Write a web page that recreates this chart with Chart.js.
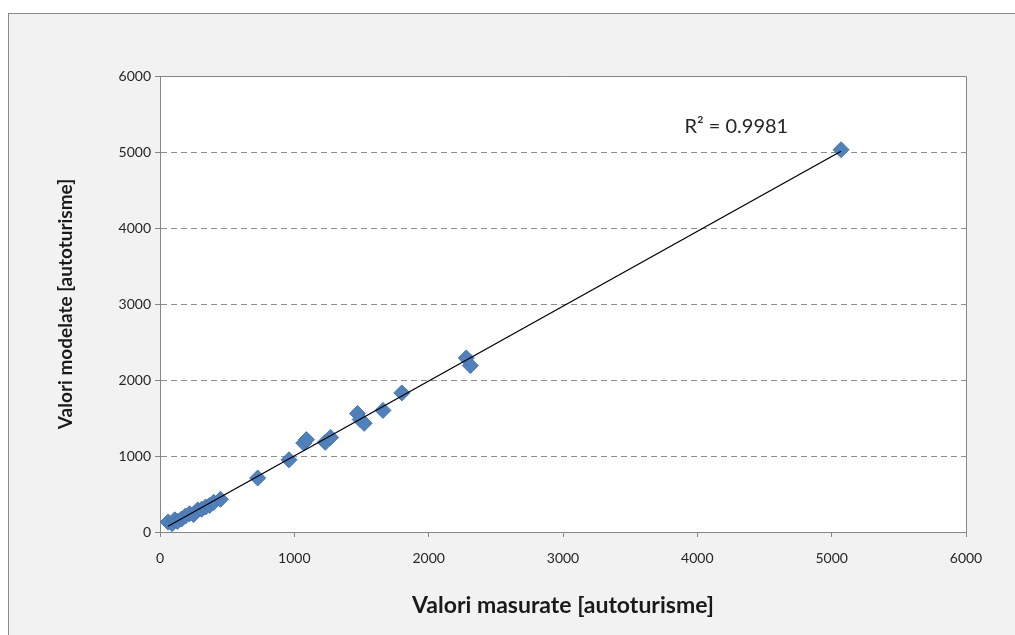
<!DOCTYPE html>
<html>
<head>
<meta charset="utf-8">
<script src="https://cdn.jsdelivr.net/npm/chart.js@4/dist/chart.umd.min.js"></script>
<style>
  html, body { margin: 0; padding: 0; background: #ffffff; width: 1015px; height: 635px; overflow: hidden; }
  #frame { position: absolute; left: 8px; top: 13px; width: 1100px; height: 700px;
           border-left: 1px solid #8a8a8a; border-top: 1px solid #8a8a8a; background: #f2f2f2; }
  #wrap { position: absolute; left: 0; top: 0; width: 1015px; height: 635px; }
</style>
</head>
<body>
<div id="frame"></div>
<div id="wrap"><canvas id="c" width="1015" height="635"></canvas></div>
<script>
// Measured values (x) and modelled values (y)
const measured = [60, 90, 110, 130, 160, 190, 220, 250, 280, 310, 340, 370, 400, 450,
                  727, 960, 1070, 1090, 1230, 1270, 1470, 1490, 1520, 1660, 1800, 2280, 2310, 5070];
const modelled = [130, 110, 160, 140, 170, 210, 240, 230, 290, 300, 330, 350, 390, 430,
                  710, 950, 1170, 1215, 1180, 1245, 1560, 1480, 1430, 1600, 1830, 2290, 2190, 5030];
const xTicks = [0, 1000, 2000, 3000, 4000, 5000, 6000];
const yTicks = [0, 1000, 2000, 3000, 4000, 5000, 6000];
const xTitle = 'Valori masurate [autoturisme]';
const yTitle = 'Valori modelate [autoturisme]';
const r2Text = 'R² = 0.9981';

// Linear trendline (least squares) from the data
const n = measured.length;
const mx = measured.reduce((a, b) => a + b, 0) / n;
const my = modelled.reduce((a, b) => a + b, 0) / n;
let sxy = 0, sxx = 0;
for (let i = 0; i < n; i++) { sxy += (measured[i] - mx) * (modelled[i] - my); sxx += (measured[i] - mx) ** 2; }
const slope = sxy / sxx, intercept = my - slope * mx;
const xmin = Math.min(...measured), xmax = Math.max(...measured);

const points = measured.map((x, i) => ({ x: x, y: modelled[i] }));
const trend = [{ x: xmin, y: slope * xmin + intercept }, { x: xmax, y: slope * xmax + intercept }];

const FONT = 'Lato, "Open Sans", sans-serif';

const plotBg = {
  id: 'plotBg',
  beforeDraw(chart) {
    const { ctx, chartArea: a } = chart;
    ctx.save();
    ctx.fillStyle = '#ffffff';
    ctx.fillRect(a.left, a.top, a.right - a.left, a.bottom - a.top);
    ctx.restore();
  },
  afterDatasetsDraw(chart) {
    const { ctx, chartArea: a, scales } = chart;
    ctx.save();
    ctx.strokeStyle = '#868686';
    ctx.lineWidth = 1;
    ctx.beginPath();
    ctx.moveTo(a.left, a.top + 0.5);
    ctx.lineTo(a.right + 0.5, a.top + 0.5);
    ctx.lineTo(a.right + 0.5, a.bottom);
    ctx.stroke();
    ctx.fillStyle = '#262626';
    ctx.font = '20px ' + FONT;
    ctx.textAlign = 'center';
    ctx.textBaseline = 'middle';
    ctx.fillText(r2Text, scales.x.getPixelForValue(4290), scales.y.getPixelForValue(5330));
    ctx.restore();
  }
};

new Chart(document.getElementById('c'), {
  type: 'scatter',
  data: {
    datasets: [
      { type: 'line', data: trend, borderColor: '#000000', borderWidth: 1.3, pointRadius: 0, fill: false, order: 0 },
      { data: points, pointStyle: 'rectRot', pointRadius: 8, pointHoverRadius: 8,
        backgroundColor: '#4F81BD', borderColor: '#4676b0', borderWidth: 1, order: 1 }
    ]
  },
  options: {
    responsive: false,
    animation: false,
    events: [],
    layout: { padding: { left: 0, top: 76, right: 49, bottom: 0 } },
    plugins: { legend: { display: false }, tooltip: { enabled: false } },
    scales: {
      x: {
        type: 'linear', min: 0, max: 6000,
        afterBuildTicks: (s) => { s.ticks = xTicks.map(v => ({ value: v })); },
        afterFit: (s) => { s.height = 103; },
        grid: { drawOnChartArea: false, drawTicks: true, tickLength: 5, tickColor: '#868686' },
        border: { display: true, color: '#868686', width: 1 },
        ticks: { color: '#262626', font: { family: FONT, size: 14 }, padding: 13, maxRotation: 0,
                 callback: (v) => String(v) },
        title: { display: true, text: xTitle, color: '#1a1a1a', font: { family: FONT, size: 23, weight: 'bold' }, padding: { top: 0, bottom: 16 } }
      },
      y: {
        type: 'linear', min: 0, max: 6000,
        afterBuildTicks: (s) => { s.ticks = yTicks.map(v => ({ value: v })); },
        afterFit: (s) => { s.width = 160; },
        grid: {
          drawOnChartArea: true, drawTicks: true, tickLength: 5,
          color: (c) => (c.tick && (c.tick.value === 0 || c.tick.value === 6000)) ? 'rgba(0,0,0,0)' : '#8c8c8c',
          tickColor: '#868686', tickBorderDash: []
        },
        border: { display: true, color: '#868686', width: 1, dash: [6, 4] },
        ticks: { color: '#262626', font: { family: FONT, size: 14 }, padding: 4, callback: (v) => String(v) },
        title: { display: true, text: yTitle, color: '#1a1a1a', font: { family: FONT, size: 19, weight: 'bold' }, padding: { top: 54, bottom: 0 } }
      }
    }
  },
  plugins: [plotBg]
});
</script>
</body>
</html>
